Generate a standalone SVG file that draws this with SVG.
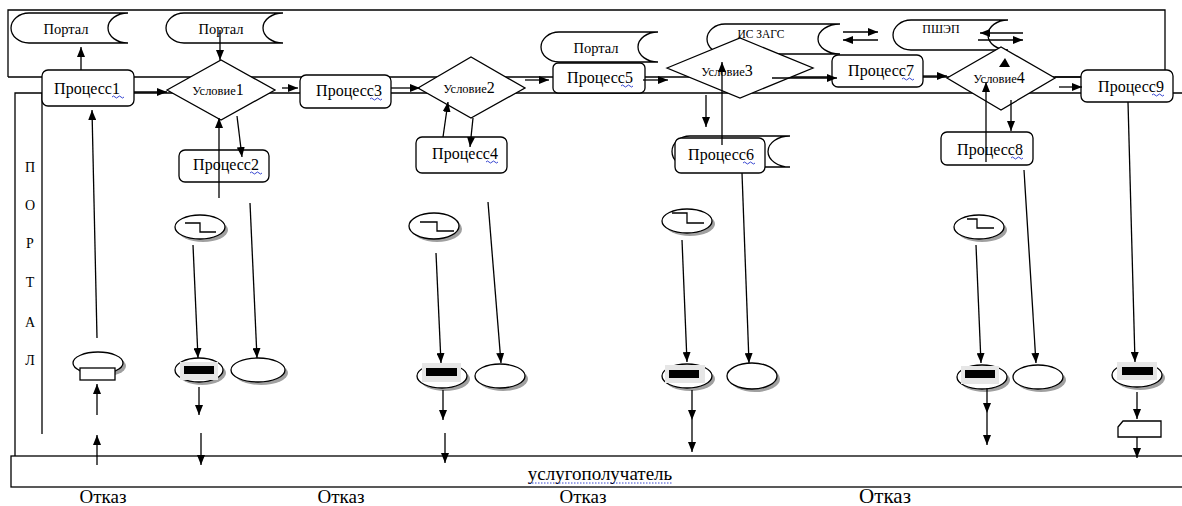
<svg xmlns="http://www.w3.org/2000/svg" width="1182" height="506" viewBox="0 0 1182 506" font-family="'Liberation Serif', 'Times New Roman', serif">
<defs>
<marker id="ah" markerUnits="userSpaceOnUse" markerWidth="10" markerHeight="8" refX="10" refY="4" orient="auto"><path d="M0,0 L10,4 L0,8 z" fill="#000"/></marker>
</defs>
<style>
.ln{stroke:#000;stroke-width:1.3;fill:none}
.ar{stroke:#000;stroke-width:1.3;fill:none;marker-end:url(#ah)}
.box{fill:#fff;stroke:#000;stroke-width:1.3}
.st{fill:#fff;stroke:#000;stroke-width:1.3}
text{font-family:'Liberation Serif','Times New Roman',serif}
.t{fill:#000;text-anchor:middle}
.p{font-size:16px}
.pt{font-size:14.5px}
.cs{font-size:12.5px}
.cd{font-size:16px}
.sh{fill:#a0a0a0}
.el{fill:#fff;stroke:#000;stroke-width:1.3}
.wv{stroke:#2233cc;stroke-width:0.9;fill:none}
.bar{fill:#000}
.gb{fill:#e6e6e6}
</style>
<rect width="1182" height="506" fill="#fff"/>
<g id="lanes">
<path class="ln" d="M8,77 V10 H1165 V70"/>
<path class="ln" d="M8,77 H1081"/>
<path class="ln" d="M15,456 V93 H1182"/>
<path class="ln" d="M42,93 V434"/>
<rect x="11" y="456" width="1175" height="31" fill="none" stroke="#000" stroke-width="1.3"/>
<g class="t" font-size="14px">
<text x="30" y="172">П</text><text x="30" y="210">О</text><text x="30" y="248">Р</text><text x="30" y="287">Т</text><text x="30" y="327">А</text><text x="30" y="365">Л</text>
</g>
<text class="t" x="600" y="480" font-size="19px">услугополучатель</text>
<path class="wv" d="M529,483 H672" stroke-dasharray="1.5 1.5"/>
<g class="t" font-size="19px">
<text x="103" y="503">Отказ</text><text x="341" y="503">Отказ</text><text x="583" y="503">Отказ</text><text x="885" y="503" font-size="21px">Отказ</text>
</g>
</g>
<g id="portal1"><path class="st" d="M29,13 H128 A20,15 0 0 0 128,43 H29 A18,15 0 0 1 29,13 z"/><text class="t pt" x="66" y="34">Портал</text></g>
<g id="portal2"><path class="st" d="M184,13 H283 A20,15 0 0 0 283,43 H184 A18,15 0 0 1 184,13 z"/><text class="t pt" x="221" y="34">Портал</text></g>
<g id="portal3"><path class="st" d="M559,32 H658 A20,15 0 0 0 658,62 H559 A18,15 0 0 1 559,32 z"/><text class="t pt" x="596" y="53">Портал</text></g>
<g id="iszags"><path class="st" d="M725,24 H840 A22,15 0 0 0 840,54 H725 A18,15 0 0 1 725,24 z"/><text class="t" x="761" y="38" font-size="11.5px">ИС ЗАГС</text></g>
<g id="pshep"><path class="st" d="M911,20 H1008 A20,15 0 0 0 1008,50 H911 A18,15 0 0 1 911,20 z"/><text class="t" x="941" y="33" font-size="12px">ПШЭП</text></g>
<g id="proc1"><rect class="box" x="42" y="70" width="92" height="36" rx="6"/><text class="t p" x="87" y="94">Процесс1</text><path class="wv" d="M112,97 q1.5,-2 3,0 t3,0 t3,0 t3,0"/></g>
<g id="cond1"><polygon class="box" points="167,90 221,60 275,90 221,120"/><text class="t" x="218" y="95"><tspan class="cs">Условие</tspan><tspan class="cd">1</tspan></text></g>
<g id="proc2"><rect class="box" x="179" y="150" width="90" height="32" rx="6"/><text class="t p" x="226" y="170">Процесс2</text><path class="wv" d="M250,173 q1.5,-2 3,0 t3,0 t3,0 t3,0"/></g>
<g id="proc3"><rect class="box" x="300" y="75" width="91" height="33" rx="6"/><text class="t p" x="349" y="96">Процесс3</text><path class="wv" d="M370,99 q1.5,-2 3,0 t3,0 t3,0 t3,0"/></g>
<g id="cond2"><polygon class="box" points="418,88 471,57 525,88 471,118"/><text class="t" x="469" y="93"><tspan class="cs">Условие</tspan><tspan class="cd">2</tspan></text></g>
<g id="proc4"><rect class="box" x="416" y="137" width="91" height="36" rx="6"/><text class="t p" x="465" y="159">Процесс4</text><path class="wv" d="M486,162 q1.5,-2 3,0 t3,0 t3,0 t3,0"/></g>
<g id="proc5"><rect class="box" x="553" y="63" width="92" height="30" rx="5"/><text class="t p" x="600" y="83">Процесс5</text><path class="wv" d="M621,86 q1.5,-2 3,0 t3,0 t3,0 t3,0"/></g>
<g id="cond3"><polygon class="box" points="667,68 740,38 813,68 740,98"/><text class="t" x="727" y="76"><tspan class="cs">Условие</tspan><tspan class="cd">3</tspan></text></g>
<g id="proc6"><path class="st" d="M690,136 H790 A22,15.5 0 0 0 790,167 H690 A18,15.5 0 0 1 690,136 z"/><rect class="box" x="675" y="138" width="90" height="35" rx="6"/><text class="t p" x="721" y="160">Процесс6</text><path class="wv" d="M743,163 q1.5,-2 3,0 t3,0 t3,0 t3,0"/></g>
<g id="proc7"><rect class="box" x="832" y="55" width="91" height="32" rx="6"/><text class="t p" x="881" y="76">Процесс7</text><path class="wv" d="M902,79 q1.5,-2 3,0 t3,0 t3,0 t3,0"/></g>
<g id="cond4"><polygon class="box" points="947,78 1001,47 1055,78 1001,110"/><text class="t" x="999" y="83"><tspan class="cs">Условие</tspan><tspan class="cd">4</tspan></text><polygon points="1005,58 999,67 1010,67" fill="#000"/></g>
<g id="proc8"><rect class="box" x="941" y="132" width="92" height="33" rx="6"/><text class="t p" x="990" y="155">Процесс8</text><path class="wv" d="M1011,158 q1.5,-2 3,0 t3,0 t3,0 t3,0"/></g>
<g id="proc9"><rect class="box" x="1081" y="70" width="92" height="32" rx="6"/><text class="t p" x="1131" y="92">Процесс9</text><path class="wv" d="M1152,95 q1.5,-2 3,0 t3,0 t3,0 t3,0"/></g>
<g id="timer1"><ellipse class="sh" cx="203" cy="230" rx="25" ry="12"/><ellipse class="el" cx="200" cy="227" rx="25" ry="12"/><path class="ln" d="M185,223 H200 V232 H216"/></g>
<g id="timer2"><ellipse class="sh" cx="437" cy="229" rx="25" ry="13"/><ellipse class="el" cx="434" cy="226" rx="25" ry="13"/><path class="ln" d="M420,222 H437 V231 H454"/></g>
<g id="timer3"><ellipse class="sh" cx="690" cy="224" rx="25" ry="12"/><ellipse class="el" cx="687" cy="221" rx="25" ry="12"/><path class="ln" d="M672,213 H687 V223 H704"/></g>
<g id="timer4"><ellipse class="sh" cx="982" cy="230" rx="25" ry="12"/><ellipse class="el" cx="979" cy="227" rx="25" ry="12"/><path class="ln" d="M967,219 H977 V228 H994"/></g>
<g id="start"><ellipse class="sh" cx="101" cy="366" rx="25" ry="11"/><ellipse class="el" cx="98" cy="363" rx="25" ry="11"/><rect class="box" x="80" y="368" width="35" height="12"/></g>
<g id="end1"><ellipse class="sh" cx="202" cy="373" rx="24" ry="12"/><ellipse class="el" cx="199" cy="370" rx="24" ry="12"/><rect class="gb" x="180" y="362" width="38" height="18"/><rect class="bar" x="184" y="366" width="30" height="8"/></g>
<g id="end2"><ellipse class="sh" cx="445" cy="379" rx="25" ry="12"/><ellipse class="el" cx="442" cy="376" rx="25" ry="12"/><rect class="gb" x="422" y="363" width="39" height="19"/><rect class="bar" x="426" y="368" width="31" height="8"/></g>
<g id="end3"><ellipse class="sh" cx="690" cy="379" rx="25" ry="12"/><ellipse class="el" cx="687" cy="376" rx="25" ry="12"/><rect class="gb" x="665" y="365" width="40" height="18"/><rect class="bar" x="669" y="370" width="30" height="8"/></g>
<g id="end4"><ellipse class="sh" cx="985" cy="380" rx="25" ry="12"/><ellipse class="el" cx="982" cy="377" rx="25" ry="12"/><rect class="gb" x="961" y="366" width="38" height="18"/><rect class="bar" x="965" y="370" width="30" height="8"/></g>
<g id="end5"><ellipse class="sh" cx="1140" cy="378" rx="25" ry="12"/><ellipse class="el" cx="1137" cy="375" rx="25" ry="12"/><rect class="gb" x="1117" y="362" width="40" height="18"/><rect class="bar" x="1122" y="367" width="31" height="8"/></g>
<g id="circ1"><ellipse class="sh" cx="261" cy="373" rx="27" ry="12"/><ellipse class="el" cx="258" cy="370" rx="27" ry="12"/></g>
<g id="circ2"><ellipse class="sh" cx="503" cy="379" rx="25" ry="12"/><ellipse class="el" cx="500" cy="376" rx="25" ry="12"/></g>
<g id="circ3"><ellipse class="sh" cx="755" cy="379" rx="25" ry="13"/><ellipse class="el" cx="752" cy="376" rx="25" ry="13"/></g>
<g id="circ4"><ellipse class="sh" cx="1041" cy="380" rx="25" ry="12"/><ellipse class="el" cx="1038" cy="377" rx="25" ry="12"/></g>
<g id="offpage"><path class="box" d="M1118,427 L1123,421 H1161 V437 H1118 z"/></g>
<g id="connectors">
<path class="ar" d="M81,70 V47"/>
<path class="ar" d="M220,30 V60"/>
<path class="ar" d="M134,92 H167"/>
<path class="ar" d="M282,88 H298"/>
<path class="ar" d="M237,116 L242,157"/>
<path class="ar" d="M219,198 V118"/>
<path class="ar" d="M97,338 L92,110"/>
<path class="ar" d="M97,415 V384"/>
<path class="ar" d="M97,465 V435"/>
<path class="ar" d="M193,245 L198,358"/>
<path class="ar" d="M250,203 L257,358"/>
<path class="ar" d="M199,387 V415"/>
<path class="ar" d="M201,433 V465"/>
<path class="ar" d="M391,88 H420"/>
<path class="ar" d="M525,80 H549"/>
<path class="ar" d="M443,137 L448,102"/>
<path class="ar" d="M473,118 L470,147"/>
<path class="ar" d="M436,253 L441,363"/>
<path class="ar" d="M488,202 L501,363"/>
<path class="ar" d="M443,390 V420"/>
<path class="ar" d="M445,433 V463"/>
<path class="ar" d="M643,80 H668"/>
<path class="ar" d="M843,32 H878"/>
<path class="ar" d="M878,40 H843"/>
<path class="ar" d="M772,78 H837"/>
<path class="ar" d="M706,95 V127"/>
<path class="ar" d="M722,145 V62"/>
<path class="ar" d="M742,173 L749,363"/>
<path class="ar" d="M682,240 L687,362"/>
<path class="ar" d="M692,390 V420"/>
<path class="ar" d="M692,420 V452"/>
<path class="ar" d="M923,76 H947"/>
<path class="ar" d="M1023,33 H980"/>
<path class="ar" d="M978,40 H1023"/>
<path class="ar" d="M986,162 V82"/>
<path class="ar" d="M1011,100 V131"/>
<path class="ln" d="M1055,77 H1081"/>
<path class="ar" d="M1059,87 H1082"/>
<path class="ar" d="M1024,170 L1036,363"/>
<path class="ar" d="M976,245 L981,363"/>
<path class="ar" d="M987,388 V413"/>
<path class="ar" d="M987,413 V445"/>
<path class="ar" d="M1128,102 L1135,362"/>
<path class="ar" d="M1137,392 V419"/>
<path class="ar" d="M1137,437 V458"/>
</g>
</svg>
